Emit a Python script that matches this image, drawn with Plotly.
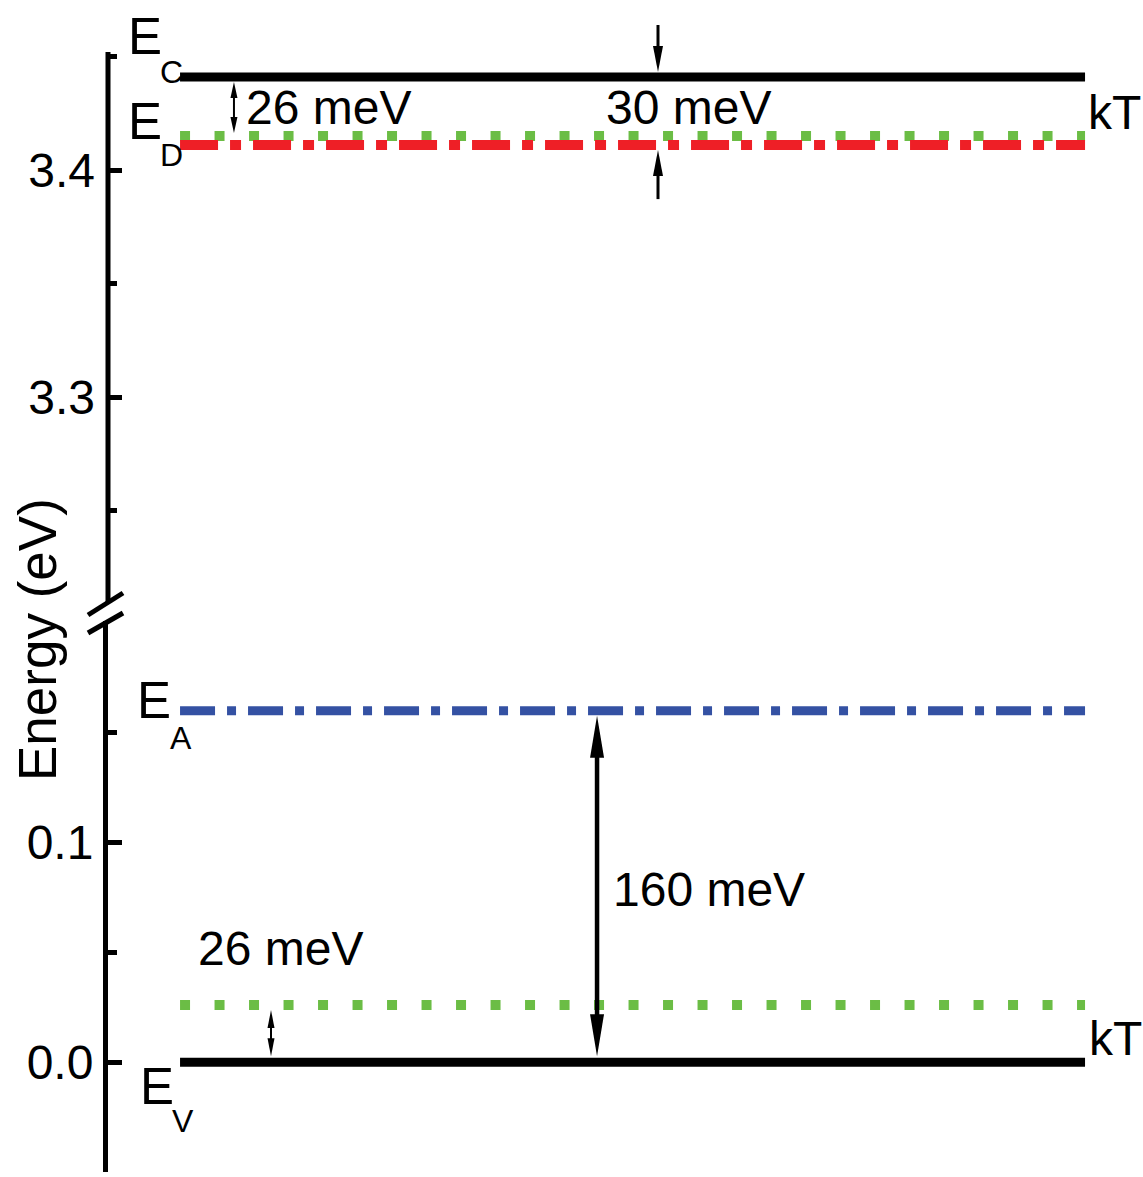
import plotly.graph_objects as go

# ---------------- data (energies in eV) ----------------
E_C = 3.441          # conduction band edge
E_D = 3.411          # donor level (30 meV below E_C)
KT = 0.026           # thermal energy at room temperature
E_A = 0.160          # acceptor level (160 meV above E_V)
E_V = 0.0            # valence band edge

top_tickvals = [3.3, 3.4]
top_minorvals = [3.25, 3.35, 3.45]
bot_tickvals = [0.0, 0.1]
bot_minorvals = [-0.05, 0.05, 0.15]

gap_labels = ["26 meV", "30 meV", "160 meV", "26 meV"]
level_letters = ["C", "D", "A", "V"]
kt_label = "kT"

# ---------------- layout constants ----------------
W, H = 1143, 1177
ML, MR, MT, MB = 108, 0, 20, 5
PW, PH = W - ML - MR, H - MT - MB
X_RANGE = [0, 100]
TOP_DOM = [0.4939, 1.0]
BOT_DOM = [0.0, 0.4783]
TOP_RANGE = [3.2093, 3.4661]
TOP_AXIS_END = 3.452          # visible end of the upper axis line
BOT_RANGE = [-0.05, 0.2009]
LINE_X = [6.96, 94.4]

PX_PER_X = PW / (X_RANGE[1] - X_RANGE[0])
PX_PER_EV_TOP = PH * (TOP_DOM[1] - TOP_DOM[0]) / (TOP_RANGE[1] - TOP_RANGE[0])
PX_PER_EV_BOT = PH * (BOT_DOM[1] - BOT_DOM[0]) / (BOT_RANGE[1] - BOT_RANGE[0])

FONT = "Liberation Sans, Arial, sans-serif"
FS = 48

BLACK = "#000000"
RED = "#EE1F26"
GREEN = "#6BBD45"
BLUE = "#3451A3"


def dx(px):
    return px / PX_PER_X


def dy(px, top):
    return px / (PX_PER_EV_TOP if top else PX_PER_EV_BOT)


def xp(px):  # pixel -> paper x
    return (px - ML) / PW


def yp(py):  # pixel -> paper y
    return (H - MB - py) / PH


fig = go.Figure()


def level(y, yaxis, color, width, dash="solid"):
    fig.add_trace(go.Scatter(
        x=LINE_X, y=[y, y], xaxis="x", yaxis=yaxis, mode="lines",
        line=dict(color=color, width=width, dash=dash),
        hoverinfo="skip", showlegend=False))


# top segment levels
level(E_C - KT, "y2", GREEN, 10, "10px,24.5px")
level(E_D, "y2", RED, 10, "38px,12px,11px,12px")
level(E_C, "y2", BLACK, 9)
# bottom segment levels
level(E_A, "y", BLUE, 9, "35px,12px,9px,12px")
level(E_V + KT, "y", GREEN, 10, "10px,24.5px")
level(E_V, "y", BLACK, 9)

shapes = []

# upper axis line (drawn as a shape so that it ends at TOP_AXIS_END)
shapes.append(dict(type="line", xref="paper", yref="y2", x0=0, x1=0,
                   y0=TOP_RANGE[0], y1=TOP_AXIS_END,
                   line=dict(color=BLACK, width=5)))


def arrow(x, y_tail, y_head, top, shaft, hl, hw, double=False):
    yref = "y2" if top else "y"
    d = 1 if y_head > y_tail else -1
    hl_d = dy(hl, top)
    hw_d = dx(hw) / 2
    y0 = y_tail + (d * hl_d * 0.8 if double else 0)
    y1 = y_head - d * hl_d * 0.8
    shapes.append(dict(type="line", xref="x", yref=yref, x0=x, x1=x, y0=y0, y1=y1,
                       line=dict(color=BLACK, width=shaft)))

    def head(tip, dirn):
        base = tip - dirn * hl_d
        return dict(type="path", xref="x", yref=yref,
                    path=f"M{x},{tip} L{x - hw_d},{base} L{x + hw_d},{base} Z",
                    fillcolor=BLACK, line=dict(width=0))
    shapes.append(head(y_head, d))
    if double:
        shapes.append(head(y_tail, -d))


# arrows (x positions in x-axis units)
arrow(12.17, E_C - KT + dy(3, True), E_C - dy(5, True), True, 2, 16, 7, double=True)
arrow(53.14, E_C + dy(52, True), E_C + dy(5, True), True, 3, 26, 10)
arrow(53.14, E_D - dy(54, True), E_D - dy(5, True), True, 3, 26, 10)
arrow(47.25, E_V + dy(6, False), E_A - dy(5, False), False, 4.5, 42, 14, double=True)
arrow(15.75, E_V + dy(6, False), E_V + KT - dy(5, False), False, 2, 18, 7, double=True)

# axis break marks
for (x0, y0, x1, y1) in [(88, 615, 123, 593), (88, 633, 123, 613)]:
    shapes.append(dict(type="line", xref="paper", yref="paper",
                       x0=xp(x0), y0=yp(y0), x1=xp(x1), y1=yp(y1),
                       line=dict(color=BLACK, width=5)))

annotations = []


def text(t, x_px, y_px, size=FS, xanchor="left", yanchor="middle", angle=0):
    annotations.append(dict(text=t, xref="paper", yref="paper", x=xp(x_px), y=yp(y_px),
                            xanchor=xanchor, yanchor=yanchor, showarrow=False,
                            textangle=angle, font=dict(family=FONT, size=size, color=BLACK)))


# level labels: "E" with a lowered subscript letter
for letter, (ex, ey, sx, sy) in zip(level_letters, [(126, 37, 158, 72),
                                                    (126, 121, 158, 155),
                                                    (135, 700, 168, 738),
                                                    (138, 1086, 170, 1121)]):
    text("E", ex, ey, size=51)
    text(letter, sx, sy, size=32)

text(gap_labels[0], 244, 107)
text(gap_labels[1], 604, 108)
text(kt_label, 1086, 112)
text(gap_labels[2], 611, 889)
text(gap_labels[3], 196, 948)
text(kt_label, 1087, 1038)
text("Energy (eV)", 37, 640, size=53, xanchor="center", angle=-90)

axis_common = dict(
    linewidth=5, linecolor=BLACK, mirror=False,
    ticks="inside", ticklen=14, tickwidth=5, tickcolor=BLACK,
    showgrid=False, zeroline=False, tickformat=".1f",
    tickfont=dict(family=FONT, size=FS, color=BLACK),
    anchor="x", side="left",
)

fig.update_layout(
    width=W, height=H,
    margin=dict(l=ML, r=MR, t=MT, b=MB),
    paper_bgcolor="white", plot_bgcolor="white",
    showlegend=False,
    xaxis=dict(range=X_RANGE, domain=[0, 1], visible=False, fixedrange=True),
    yaxis=dict(domain=BOT_DOM, range=BOT_RANGE, tickmode="array", tickvals=bot_tickvals,
               showline=True, ticklabelstandoff=0,
               minor=dict(tickmode="array", tickvals=bot_minorvals, ticks="inside", ticklen=9,
                          tickwidth=5, tickcolor=BLACK, showgrid=False),
               **axis_common),
    yaxis2=dict(domain=TOP_DOM, range=TOP_RANGE, tickmode="array", tickvals=top_tickvals,
                showline=False, ticklabelstandoff=12,
                minor=dict(tickmode="array", tickvals=top_minorvals, ticks="inside", ticklen=9,
                           tickwidth=5, tickcolor=BLACK, showgrid=False),
                **axis_common),
    shapes=shapes,
    annotations=annotations,
)

fig.write_html("out.html")
